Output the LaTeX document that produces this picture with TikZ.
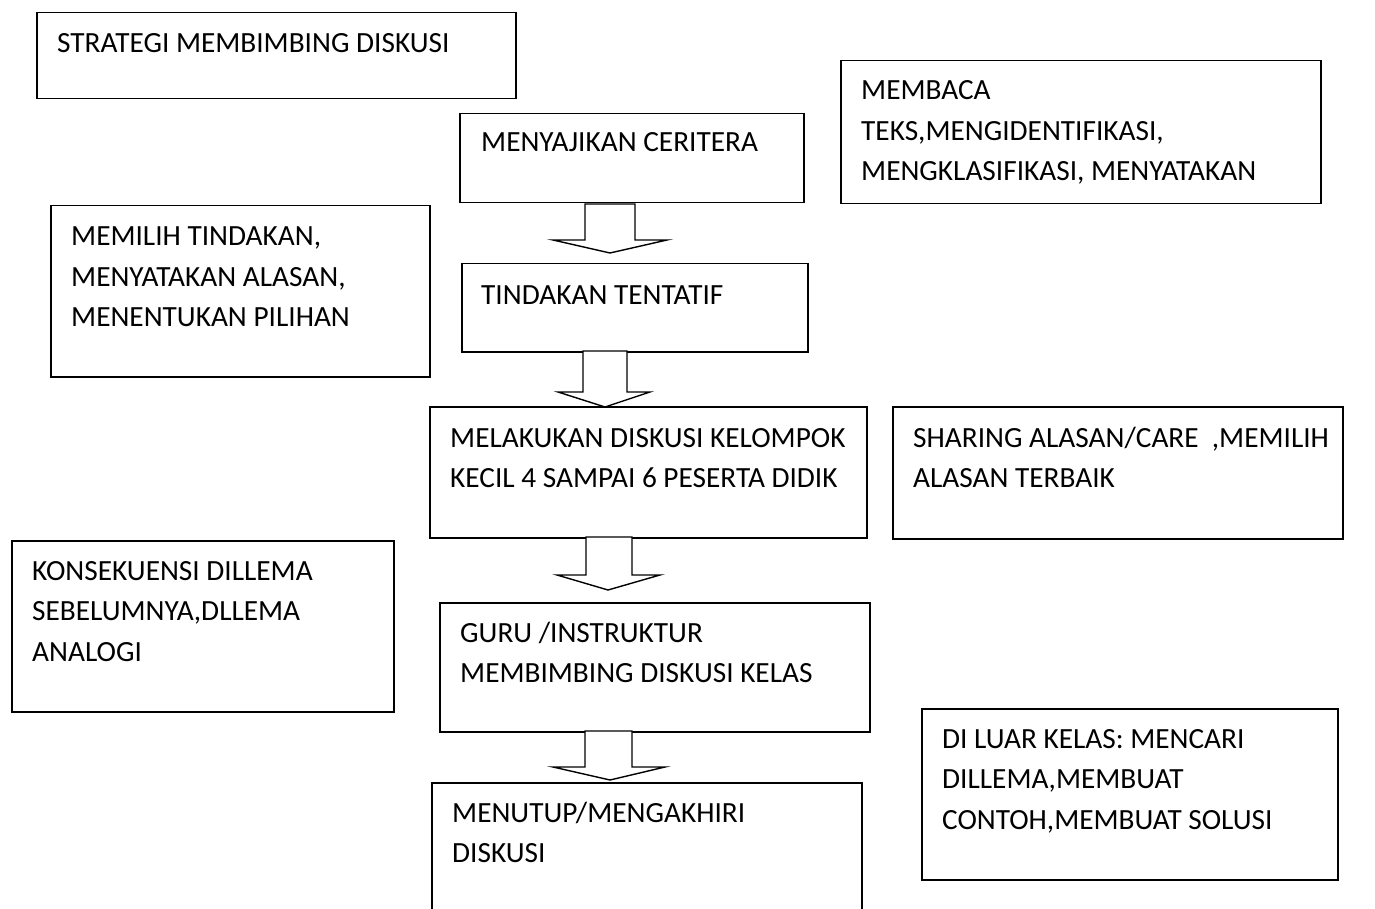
\documentclass[tikz,border=0pt]{standalone}
\usepackage{fontspec}
\setmainfont{Carlito}
\usetikzlibrary{calc}
\tikzset{
  box/.style={draw=black, line width=1.5pt, fill=white, inner sep=0pt, anchor=north west},
  txt/.style={inner sep=0pt, anchor=base west, font=\fontsize{29.3}{40.5}\selectfont},
  blockarrow/.style={draw=black, line width=1.4pt, fill=white, line join=miter}
}
\newcommand{\lines}[1]{\parbox[t]{560pt}{\raggedright #1}}
\begin{document}
\begin{tikzpicture}[x=1pt,y=-1pt]
\useasboundingbox (0,0) rectangle (1375,909);
\clip (0,0) rectangle (1375,909);
\fill[white] (0,0) rectangle (1375,909);
% boxes
\node[box, minimum width=479pt, minimum height=86pt] (b1) at (36,12) {};
\node[box, minimum width=344pt, minimum height=89pt] (b2) at (459,113) {};
\node[box, minimum width=480pt, minimum height=143pt] (b3) at (840,60) {};
\node[box, minimum width=379pt, minimum height=171pt] (b4) at (50,205) {};
\node[box, minimum width=346pt, minimum height=88pt] (b5) at (461,263) {};
\node[box, minimum width=437pt, minimum height=131pt] (b6) at (429,406) {};
\node[box, minimum width=450pt, minimum height=132pt] (b7) at (892,406) {};
\node[box, minimum width=382pt, minimum height=171pt] (b8) at (11,540) {};
\node[box, minimum width=430pt, minimum height=129pt] (b9) at (439,602) {};
\node[box, minimum width=416pt, minimum height=171pt] (b10) at (921,708) {};
\node[box, minimum width=430pt, minimum height=160pt] (b11) at (431,782) {};
% texts
\node[txt] (t1) at (57,53) {\lines{STRATEGI MEMBIMBING DISKUSI}};
\node[txt] (t2) at (481,152) {\lines{MENYAJIKAN CERITERA}};
\node[txt] (t3) at (861,100) {\lines{MEMBACA\\TEKS,MENGIDENTIFIKASI,\\MENGKLASIFIKASI, MENYATAKAN}};
\node[txt] (t4) at (71,246) {\lines{MEMILIH TINDAKAN,\\MENYATAKAN ALASAN,\\MENENTUKAN PILIHAN}};
\node[txt] (t5) at (481,304) {\lines{TINDAKAN TENTATIF}};
\node[txt] (t6) at (450,447) {\lines{MELAKUKAN DISKUSI KELOMPOK\\KECIL 4 SAMPAI 6 PESERTA DIDIK}};
\node[txt] (t7) at (913,447) {\lines{SHARING ALASAN/CARE\ \ ,MEMILIH\\ALASAN TERBAIK}};
\node[txt] (t8) at (32,580) {\lines{KONSEKUENSI DILLEMA\\SEBELUMNYA,DLLEMA\\ANALOGI}};
\node[txt] (t9) at (460,642) {\lines{GURU /INSTRUKTUR\\MEMBIMBING DISKUSI KELAS}};
\node[txt] (t10) at (942,748) {\lines{DI LUAR KELAS: MENCARI\\DILLEMA,MEMBUAT\\CONTOH,MEMBUAT SOLUSI}};
\node[txt] (t11) at (452,822) {\lines{MENUTUP/MENGAKHIRI\\DISKUSI}};
% block arrows
\draw[blockarrow] (585,204) -- (635,204) -- (635,240) -- (667,240) -- (610,253) -- (553,240) -- (585,240) -- cycle;
\draw[blockarrow] (583,351) -- (627,351) -- (627,392) -- (650,392) -- (605,407) -- (558,392) -- (583,392) -- cycle;
\draw[blockarrow] (586,537) -- (632,537) -- (632,575) -- (660,575) -- (608,590) -- (557,575) -- (586,575) -- cycle;
\draw[blockarrow] (585,731) -- (632,731) -- (632,767) -- (665,767) -- (610,780) -- (553,767) -- (585,767) -- cycle;
\end{tikzpicture}
\end{document}
